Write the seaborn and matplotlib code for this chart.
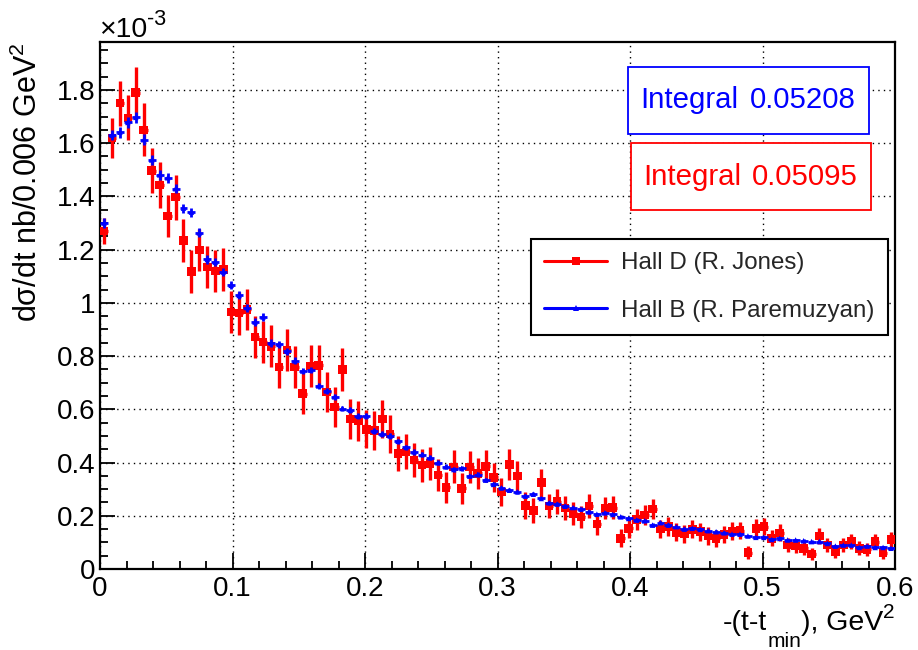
import numpy as np
import pandas as pd
import matplotlib
matplotlib.use("Agg")
import matplotlib.pyplot as plt
import seaborn as sns
from matplotlib.lines import Line2D
from matplotlib.patches import Rectangle
from matplotlib.ticker import MultipleLocator

# ---------------- data (y values in units of 1e-3 nb / 0.006 GeV^2) ----------------
BIN_WIDTH = 0.006
N_BINS = 100
t_centers = (np.arange(N_BINS) + 0.5) * BIN_WIDTH

hall_d = [1.27, 1.62, 1.75, 1.695, 1.79, 1.65, 1.497, 1.443, 1.326, 1.397,
          1.235, 1.118, 1.199, 1.134, 1.119, 1.125, 0.965, 0.961, 0.975, 0.872,
          0.853, 0.837, 0.759, 0.822, 0.759, 0.659, 0.762, 0.765, 0.665, 0.609,
          0.749, 0.564, 0.557, 0.525, 0.520, 0.563, 0.507, 0.434, 0.440, 0.409,
          0.390, 0.397, 0.353, 0.307, 0.384, 0.303, 0.384, 0.359, 0.386, 0.344,
          0.290, 0.393, 0.349, 0.238, 0.219, 0.324, 0.236, 0.253, 0.229, 0.209,
          0.196, 0.236, 0.169, 0.228, 0.231, 0.115, 0.153, 0.186, 0.203, 0.225,
          0.150, 0.159, 0.138, 0.131, 0.149, 0.140, 0.124, 0.115, 0.130, 0.143,
          0.144, 0.061, 0.153, 0.159, 0.115, 0.136, 0.090, 0.086, 0.078, 0.056,
          0.124, 0.090, 0.065, 0.090, 0.103, 0.078, 0.074, 0.103, 0.061, 0.111]

hall_d_err = [0.050, 0.075, 0.085, 0.085, 0.095, 0.100, 0.085, 0.085, 0.080, 0.085,
              0.080, 0.080, 0.080, 0.080, 0.080, 0.080, 0.080, 0.080, 0.078, 0.078,
              0.078, 0.078, 0.078, 0.078, 0.078, 0.076, 0.078, 0.078, 0.076, 0.075,
              0.080, 0.075, 0.075, 0.072, 0.072, 0.072, 0.070, 0.066, 0.066, 0.064,
              0.062, 0.062, 0.060, 0.058, 0.062, 0.058, 0.060, 0.058, 0.060, 0.056,
              0.053, 0.058, 0.055, 0.050, 0.048, 0.052, 0.046, 0.046, 0.045, 0.043,
              0.042, 0.044, 0.040, 0.042, 0.042, 0.034, 0.037, 0.038, 0.038, 0.038,
              0.035, 0.035, 0.033, 0.033, 0.034, 0.033, 0.032, 0.031, 0.032, 0.033,
              0.033, 0.024, 0.033, 0.033, 0.030, 0.032, 0.028, 0.027, 0.026, 0.024,
              0.030, 0.027, 0.025, 0.027, 0.028, 0.026, 0.025, 0.028, 0.024, 0.029]

hall_b = [1.300, 1.630, 1.641, 1.678, 1.697, 1.613, 1.537, 1.481, 1.470, 1.429,
          1.356, 1.341, 1.263, 1.163, 1.153, 1.116, 1.066, 1.028, 0.982, 0.928,
          0.947, 0.849, 0.844, 0.818, 0.782, 0.744, 0.747, 0.688, 0.669, 0.647,
          0.603, 0.597, 0.574, 0.575, 0.518, 0.507, 0.500, 0.480, 0.457, 0.440,
          0.430, 0.418, 0.399, 0.384, 0.374, 0.378, 0.349, 0.355, 0.334, 0.318,
          0.305, 0.296, 0.290, 0.274, 0.281, 0.265, 0.249, 0.244, 0.236, 0.231,
          0.225, 0.215, 0.206, 0.211, 0.205, 0.196, 0.190, 0.184, 0.181, 0.165,
          0.174, 0.165, 0.159, 0.150, 0.153, 0.149, 0.144, 0.140, 0.136, 0.131,
          0.131, 0.124, 0.119, 0.119, 0.111, 0.115, 0.109, 0.109, 0.106, 0.103,
          0.103, 0.096, 0.086, 0.090, 0.090, 0.081, 0.086, 0.081, 0.081, 0.078]

hall_b_err = [0.020, 0.020, 0.020, 0.020, 0.020, 0.020, 0.018, 0.018, 0.018, 0.018,
              0.017, 0.017, 0.017, 0.016, 0.016, 0.016, 0.015, 0.015, 0.015, 0.014,
              0.014, 0.014, 0.013, 0.013, 0.013, 0.013, 0.012, 0.012, 0.012, 0.012,
              0.011, 0.011, 0.011, 0.011, 0.010, 0.010, 0.010, 0.010, 0.010, 0.010,
              0.009, 0.009, 0.009, 0.009, 0.009, 0.009, 0.008, 0.008, 0.008, 0.008,
              0.008, 0.008, 0.008, 0.007, 0.007, 0.007, 0.007, 0.007, 0.007, 0.007,
              0.007, 0.007, 0.006, 0.006, 0.006, 0.006, 0.006, 0.006, 0.006, 0.006,
              0.006, 0.006, 0.006, 0.006, 0.006, 0.006, 0.005, 0.005, 0.005, 0.005,
              0.005, 0.005, 0.005, 0.005, 0.005, 0.005, 0.005, 0.005, 0.005, 0.005,
              0.005, 0.005, 0.005, 0.005, 0.005, 0.005, 0.005, 0.005, 0.005, 0.005]

x_ticks = [0, 0.1, 0.2, 0.3, 0.4, 0.5, 0.6]
x_tick_labels = ["0", "0.1", "0.2", "0.3", "0.4", "0.5", "0.6"]
y_ticks = [0, 0.2, 0.4, 0.6, 0.8, 1.0, 1.2, 1.4, 1.6, 1.8]
y_tick_labels = ["0", "0.2", "0.4", "0.6", "0.8", "1", "1.2", "1.4", "1.6", "1.8"]

series_labels = ["Hall D (R. Jones)", "Hall B (R. Paremuzyan)"]
integral_b = "0.05208"
integral_d = "0.05095"

# ---------------- style ----------------
sns.set_theme(style="white")
plt.rcParams["font.family"] = ["Liberation Sans", "DejaVu Sans"]
plt.rcParams["mathtext.fontset"] = "custom"
plt.rcParams["mathtext.rm"] = "Liberation Sans"
plt.rcParams["mathtext.it"] = "Liberation Sans:italic"
plt.rcParams["mathtext.bf"] = "Liberation Sans:bold"

W, H = 918, 650
fig = plt.figure(figsize=(W / 100, H / 100), dpi=100)
fig.patch.set_facecolor("white")

def fx(px):
    return px / W

def fy(py):
    return 1 - py / H

ax = fig.add_axes([fx(100), fy(569), fx(895) - fx(100), fy(42) - fy(569)])
ax.set_facecolor("white")

df_d = pd.DataFrame({"t": t_centers, "v": hall_d, "e": hall_d_err})
df_b = pd.DataFrame({"t": t_centers, "v": hall_b, "e": hall_b_err})

# Hall D (red)
ax.errorbar(df_d["t"], df_d["v"], yerr=df_d["e"], xerr=BIN_WIDTH / 2, fmt="none",
            ecolor="#ff0000", elinewidth=2.4, capsize=0, zorder=3)
sns.scatterplot(data=df_d, x="t", y="v", marker="s", s=38, color="#ff0000",
                edgecolor="none", linewidth=0, ax=ax, zorder=4, legend=False)
# Hall B (blue)
ax.errorbar(df_b["t"], df_b["v"], yerr=df_b["e"], xerr=BIN_WIDTH / 2, fmt="none",
            ecolor="#0000ff", elinewidth=2.0, capsize=0, zorder=5)
sns.scatterplot(data=df_b, x="t", y="v", marker="^", s=16, color="#0000ff",
                edgecolor="none", linewidth=0, ax=ax, zorder=6, legend=False)

ax.set_xlim(0, 0.6)
ax.set_ylim(0, 1.98)
ax.set_xlabel("")
ax.set_ylabel("")

ax.set_xticks(x_ticks)
ax.set_xticklabels(x_tick_labels)
ax.set_yticks(y_ticks)
ax.set_yticklabels(y_tick_labels)
ax.xaxis.set_minor_locator(MultipleLocator(0.02))
ax.yaxis.set_minor_locator(MultipleLocator(0.05))
ax.tick_params(axis="both", which="both", direction="in", colors="black",
               labelsize=20, width=1.3)
ax.tick_params(axis="x", which="major", length=11.5, pad=5)
ax.tick_params(axis="x", which="minor", length=5.8)
ax.tick_params(axis="y", which="major", length=11, pad=3)
ax.tick_params(axis="y", which="minor", length=5.8)
ax.tick_params(bottom=True, left=True, top=False, right=False, which="both")

ax.grid(True, which="major", color="black", linestyle=(0, (1, 3)), linewidth=1.0)
ax.set_axisbelow(True)
for s in ax.spines.values():
    s.set_color("black")
    s.set_linewidth(1.6)

renderer = fig.canvas.get_renderer()

def chain(pieces, x0, base, align="left"):
    """pieces: (text, fontsize, baseline shift in px (positive = up))"""
    objs = []
    x = 0.0
    for s, size, dy in pieces:
        t = fig.text(0, 0, s, fontsize=size, ha="left", va="baseline", color="black")
        w = t.get_window_extent(renderer).width
        objs.append((t, x, dy))
        x += w
    start = x0 - x if align == "right" else x0
    for t, xo, dy in objs:
        t.set_position((fx(start + xo), fy(base - dy)))

# y-axis title
fig.text(fx(28), fy(42), "dσ/dt nb/0.006 GeV$^{2}$", rotation=90, ha="center", va="top",
         fontsize=22, color="black")
# x-axis title
chain([("-(t-t", 20.5, 0), ("min", 15, -17), ("), GeV", 20.5, 0), ("2", 15, 12)],
      895, 630, align="right")
# exponent
chain([("×10", 20.5, 0), ("-3", 15.5, 12)], 99, 37)

# integral boxes
fig.patches.append(Rectangle((fx(628), fy(134)), fx(869) - fx(628), fy(67) - fy(134),
                             transform=fig.transFigure, facecolor="white",
                             edgecolor="#0000ff", linewidth=1.3, zorder=10))
fig.text(fx(640), fy(100), "Integral", ha="left", va="center", fontsize=21.2,
         color="#0000ff", zorder=11)
fig.text(fx(750), fy(100), integral_b, ha="left", va="center", fontsize=21.2,
         color="#0000ff", zorder=11)
fig.patches.append(Rectangle((fx(631), fy(210)), fx(871) - fx(631), fy(143) - fy(210),
                             transform=fig.transFigure, facecolor="white",
                             edgecolor="#ff0000", linewidth=1.3, zorder=10))
fig.text(fx(643), fy(177), "Integral", ha="left", va="center", fontsize=21.2,
         color="#ff0000", zorder=11)
fig.text(fx(752), fy(177), integral_d, ha="left", va="center", fontsize=21.2,
         color="#ff0000", zorder=11)

# legend
handles = [
    Line2D([0], [0], color="#ff0000", linewidth=2.2, marker="s", markersize=6,
           markeredgewidth=0),
    Line2D([0], [0], color="#0000ff", linewidth=2.2, marker="^", markersize=4.5,
           markeredgewidth=0),
]
leg = fig.legend(handles, series_labels, loc="upper left",
                 bbox_to_anchor=(fx(531), fy(239)), fontsize=17.4, frameon=True,
                 fancybox=False, framealpha=1, edgecolor="black",
                 handlelength=2.6, handletextpad=0.58, borderpad=0.55,
                 labelspacing=1.06, borderaxespad=0)
leg.get_frame().set_linewidth(1.5)
leg.set_zorder(12)

fig.savefig("out.png", dpi=100, facecolor="white")
